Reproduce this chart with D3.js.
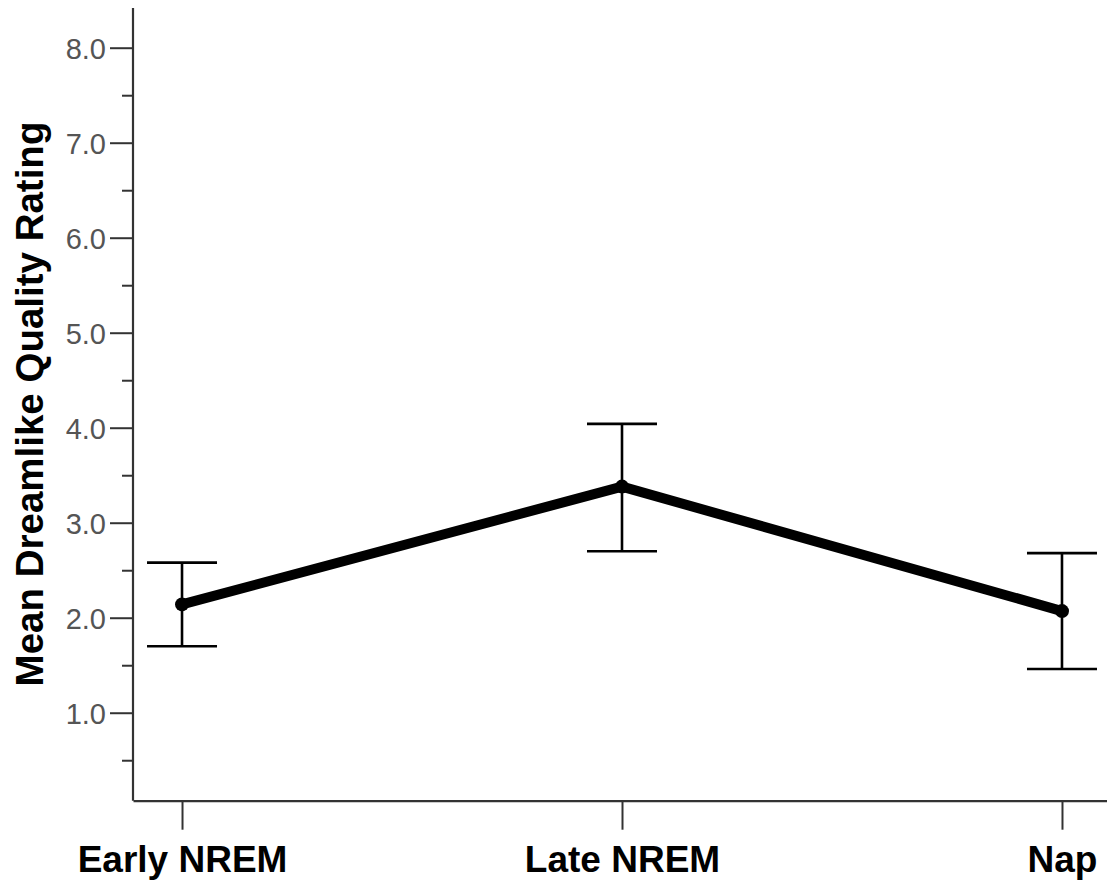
<!DOCTYPE html>
<html>
<head>
<meta charset="utf-8">
<script src="https://cdn.jsdelivr.net/npm/d3@7"></script>
<style>
  html, body { margin: 0; padding: 0; background: #fff; }
  svg { display: block; }
</style>
</head>
<body>
<svg id="chart" width="1107" height="884"></svg>
<script>
// Sleep stage groups and their mean dreamlike quality ratings with error bars
const categories = ["Early NREM", "Late NREM", "Nap"];
const means = [2.14, 3.38, 2.07];
const upper = [2.58, 4.04, 2.68];
const lower = [1.70, 2.70, 1.46];
const majorTicks = [1, 2, 3, 4, 5, 6, 7, 8];
const minorTicks = [0.5, 1.5, 2.5, 3.5, 4.5, 5.5, 6.5, 7.5];
const yDomain = [0.074, 8.418];
const yTitle = "Mean Dreamlike Quality Rating";

const svg = d3.select("#chart");
const axisColor = "#333";
const plotLeft = 133, plotBottom = 800.7, plotTop = 8, plotRight = 1111;

const x = d3.scalePoint().domain(categories).range([plotLeft, plotRight]).padding(0.1114);
const y = d3.scaleLinear().domain(yDomain).range([plotBottom, plotTop]);

// Y axis: major ticks with labels
const yAxis = svg.append("g")
  .attr("transform", `translate(${plotLeft},0)`)
  .call(d3.axisLeft(y).tickValues(majorTicks).tickSize(23).tickPadding(4).tickFormat(d3.format(".1f")));
yAxis.select(".domain").remove();
yAxis.selectAll(".tick line").attr("stroke", axisColor).attr("stroke-width", 2);
yAxis.selectAll(".tick text")
  .attr("font-family", "'Liberation Sans', Arial, sans-serif")
  .attr("font-size", 29)
  .attr("fill", "#555")
  .attr("dy", "0.36em");

// Y axis: minor ticks
const yMinor = svg.append("g")
  .attr("transform", `translate(${plotLeft},0)`)
  .call(d3.axisLeft(y).tickValues(minorTicks.filter(v => v >= yDomain[0] && v <= yDomain[1])).tickSize(11).tickFormat(""));
yMinor.select(".domain").remove();
yMinor.selectAll(".tick line").attr("stroke", axisColor).attr("stroke-width", 2);

// Vertical axis line
svg.append("line").attr("x1", plotLeft).attr("x2", plotLeft).attr("y1", y(yDomain[1])).attr("y2", plotBottom)
  .attr("stroke", axisColor).attr("stroke-width", 2.2);

// X axis
const xAxis = svg.append("g")
  .attr("transform", `translate(0,${plotBottom})`)
  .call(d3.axisBottom(x).tickSize(29).tickSizeOuter(0));
xAxis.select(".domain").attr("stroke", axisColor).attr("stroke-width", 2.2);
xAxis.selectAll(".tick line").attr("stroke", axisColor).attr("stroke-width", 2);
xAxis.selectAll(".tick text")
  .attr("font-family", "'Liberation Sans', Arial, sans-serif")
  .attr("font-weight", "bold")
  .attr("font-size", 37)
  .attr("fill", "#000")
  .attr("y", 71)
  .attr("dy", 0);

// Y axis title
svg.append("text")
  .attr("transform", `translate(43,${(120 + 688) / 2}) rotate(-90)`)
  .attr("text-anchor", "middle")
  .attr("font-family", "'Liberation Sans', Arial, sans-serif")
  .attr("font-weight", "bold")
  .attr("font-size", 38.5)
  .attr("fill", "#000")
  .text(yTitle);

// Error bars
const capHalf = 35;
const bars = svg.append("g");
categories.forEach((c, i) => {
  const cx = x(c);
  bars.append("line").attr("x1", cx).attr("x2", cx).attr("y1", y(upper[i])).attr("y2", y(lower[i]))
    .attr("stroke", "#000").attr("stroke-width", 2.6);
  [upper[i], lower[i]].forEach(v => {
    bars.append("line").attr("x1", cx - capHalf).attr("x2", cx + capHalf).attr("y1", y(v)).attr("y2", y(v))
      .attr("stroke", "#000").attr("stroke-width", 2.6);
  });
});

// Mean line and markers
const line = d3.line().x((d, i) => x(categories[i])).y(d => y(d));
svg.append("path").datum(means).attr("d", line)
  .attr("fill", "none").attr("stroke", "#000").attr("stroke-width", 10).attr("stroke-linejoin", "round");
svg.append("g").selectAll("circle").data(means).join("circle")
  .attr("cx", (d, i) => x(categories[i])).attr("cy", d => y(d)).attr("r", 7).attr("fill", "#000");
</script>
</body>
</html>
